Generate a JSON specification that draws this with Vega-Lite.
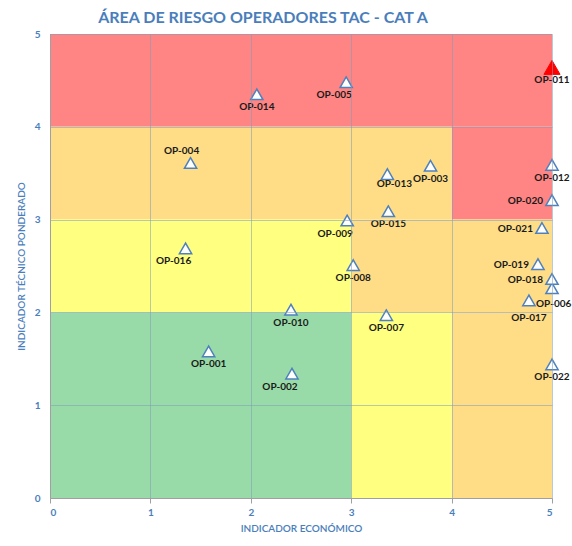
{
  "$schema": "https://vega.github.io/schema/vega-lite/v6.json",
  "autosize": {"type": "none"},
  "width": 502,
  "height": 464,
  "padding": {"left": 50, "top": 34, "right": 20, "bottom": 48},
  "background": "white",
  "title": {
    "text": "ÁREA DE RIESGO OPERADORES TAC - CAT A",
    "font": "Lato",
    "fontSize": 16,
    "fontWeight": "bold",
    "color": "#4A7EBB",
    "anchor": "middle",
    "dx": -38,
    "offset": 3
  },
  "config": {
    "view": {"stroke": null},
    "axis": {
      "labelFont": "Lato",
      "titleFont": "Lato",
      "labelColor": "#4A7EBB",
      "titleColor": "#4A7EBB",
      "labelFontWeight": "bold",
      "titleFontWeight": 600,
      "labelFontSize": 10,
      "titleFontSize": 10,
      "gridColor": "#7F9DB9",
      "gridOpacity": 0.55,
      "domainColor": "#A0A0A0",
      "tickColor": "#A0A0A0"
    }
  },
  "datasets": {
    "zonas": [
      {"zona": "Alto", "x0": 0, "x1": 5, "y0": 4, "y1": 5},
      {"zona": "Alto", "x0": 4, "x1": 5, "y0": 3, "y1": 4},
      {"zona": "Medio alto", "x0": 0, "x1": 4, "y0": 3, "y1": 4},
      {"zona": "Medio alto", "x0": 3, "x1": 5, "y0": 2, "y1": 3},
      {"zona": "Medio alto", "x0": 4, "x1": 5, "y0": 0, "y1": 2},
      {"zona": "Medio", "x0": 0, "x1": 3, "y0": 2, "y1": 3},
      {"zona": "Medio", "x0": 3, "x1": 4, "y0": 0, "y1": 2},
      {"zona": "Bajo", "x0": 0, "x1": 3, "y0": 0, "y1": 2}
    ],
    "operadores": [
      {"op": "OP-001", "eco": 1.58, "tec": 1.58},
      {"op": "OP-002", "eco": 2.41, "tec": 1.34},
      {"op": "OP-003", "eco": 3.79, "tec": 3.58},
      {"op": "OP-004", "eco": 1.40, "tec": 3.61},
      {"op": "OP-005", "eco": 2.95, "tec": 4.48},
      {"op": "OP-006", "eco": 5.0, "tec": 2.26},
      {"op": "OP-007", "eco": 3.35, "tec": 1.97},
      {"op": "OP-008", "eco": 3.02, "tec": 2.51},
      {"op": "OP-009", "eco": 2.96, "tec": 2.99},
      {"op": "OP-010", "eco": 2.40, "tec": 2.03},
      {"op": "OP-011", "eco": 5.0, "tec": 4.64},
      {"op": "OP-012", "eco": 5.0, "tec": 3.59},
      {"op": "OP-013", "eco": 3.36, "tec": 3.49},
      {"op": "OP-014", "eco": 2.06, "tec": 4.35},
      {"op": "OP-015", "eco": 3.37, "tec": 3.09},
      {"op": "OP-016", "eco": 1.35, "tec": 2.69},
      {"op": "OP-017", "eco": 4.77, "tec": 2.13},
      {"op": "OP-018", "eco": 5.0, "tec": 2.36},
      {"op": "OP-019", "eco": 4.86, "tec": 2.52},
      {"op": "OP-020", "eco": 5.0, "tec": 3.21},
      {"op": "OP-021", "eco": 4.90, "tec": 2.91},
      {"op": "OP-022", "eco": 5.0, "tec": 1.44}
    ]
  },
  "layer": [
    {
      "data": {"name": "zonas"},
      "mark": {"type": "rect"},
      "encoding": {
        "x": {"field": "x0", "type": "quantitative", "scale": {"domain": [0, 5], "nice": false}, "axis": {"title": "INDICADOR ECONÓMICO", "values": [0, 1, 2, 3, 4, 5], "format": "d", "tickSize": 5, "labelPadding": 4, "titlePadding": 6, "zindex": 1}},
        "x2": {"field": "x1"},
        "y": {"field": "y0", "type": "quantitative", "scale": {"domain": [0, 5], "nice": false}, "axis": {"title": "INDICADOR TÉCNICO PONDERADO", "values": [0, 1, 2, 3, 4, 5], "format": "d", "ticks": false, "labelPadding": 10, "titlePadding": 8, "zindex": 1}},
        "y2": {"field": "y1"},
        "color": {"field": "zona", "type": "nominal", "legend": null,
          "scale": {"domain": ["Alto", "Medio alto", "Medio", "Bajo"], "range": ["#FF8484", "#FEDD86", "#FFFF80", "#98DBA8"]}}
      }
    },
    {
      "data": {"name": "operadores"},
      "transform": [{"filter": "datum.op !== 'OP-011'"}],
      "mark": {"type": "point", "shape": "triangle-up", "filled": true, "fill": "white", "stroke": "#4F81BD", "strokeWidth": 1.5, "size": 150, "opacity": 1},
      "encoding": {
        "x": {"field": "eco", "type": "quantitative"},
        "y": {"field": "tec", "type": "quantitative"}
      }
    },
    {
      "data": {"name": "operadores"},
      "transform": [{"filter": "datum.op === 'OP-011'"}],
      "mark": {"type": "point", "shape": "triangle-up", "filled": true, "fill": "#FF0000", "stroke": "#FF0000", "strokeWidth": 1, "size": 260, "opacity": 1},
      "encoding": {
        "x": {"field": "eco", "type": "quantitative"},
        "y": {"field": "tec", "type": "quantitative"}
      }
    },
    {
      "data": {"name": "operadores"},
      "transform": [{"filter": {"field": "op", "oneOf": ["OP-001", "OP-003", "OP-007", "OP-008", "OP-010", "OP-011", "OP-012", "OP-014", "OP-015", "OP-022"]}}],
      "mark": {"type": "text", "font": "Lato", "fontSize": 10, "fontWeight": "bold", "color": "#1A1A1A", "dy": 13, "baseline": "middle", "align": "center"},
      "encoding": {
        "x": {"field": "eco", "type": "quantitative"},
        "y": {"field": "tec", "type": "quantitative"},
        "text": {"field": "op"}
      }
    },
    {
      "data": {"name": "operadores"},
      "transform": [{"filter": {"field": "op", "oneOf": ["OP-002", "OP-005", "OP-009", "OP-016"]}}],
      "mark": {"type": "text", "font": "Lato", "fontSize": 10, "fontWeight": "bold", "color": "#1A1A1A", "dy": 13, "dx": -12, "baseline": "middle", "align": "center"},
      "encoding": {
        "x": {"field": "eco", "type": "quantitative"},
        "y": {"field": "tec", "type": "quantitative"},
        "text": {"field": "op"}
      }
    },
    {
      "data": {"name": "operadores"},
      "transform": [{"filter": {"field": "op", "oneOf": ["OP-013"]}}],
      "mark": {"type": "text", "font": "Lato", "fontSize": 10, "fontWeight": "bold", "color": "#1A1A1A", "dy": 10, "dx": 7, "baseline": "middle", "align": "center"},
      "encoding": {
        "x": {"field": "eco", "type": "quantitative"},
        "y": {"field": "tec", "type": "quantitative"},
        "text": {"field": "op"}
      }
    },
    {
      "data": {"name": "operadores"},
      "transform": [{"filter": {"field": "op", "oneOf": ["OP-017"]}}],
      "mark": {"type": "text", "font": "Lato", "fontSize": 10, "fontWeight": "bold", "color": "#1A1A1A", "dy": 18, "baseline": "middle", "align": "center"},
      "encoding": {
        "x": {"field": "eco", "type": "quantitative"},
        "y": {"field": "tec", "type": "quantitative"},
        "text": {"field": "op"}
      }
    },
    {
      "data": {"name": "operadores"},
      "transform": [{"filter": {"field": "op", "oneOf": ["OP-018", "OP-019", "OP-020", "OP-021"]}}],
      "mark": {"type": "text", "font": "Lato", "fontSize": 10, "fontWeight": "bold", "color": "#1A1A1A", "dx": -9, "dy": 1, "baseline": "middle", "align": "right"},
      "encoding": {
        "x": {"field": "eco", "type": "quantitative"},
        "y": {"field": "tec", "type": "quantitative"},
        "text": {"field": "op"}
      }
    },
    {
      "data": {"name": "operadores"},
      "transform": [{"filter": {"field": "op", "oneOf": ["OP-004"]}}],
      "mark": {"type": "text", "font": "Lato", "fontSize": 10, "fontWeight": "bold", "color": "#1A1A1A", "dx": -9, "dy": -12, "baseline": "middle", "align": "center"},
      "encoding": {
        "x": {"field": "eco", "type": "quantitative"},
        "y": {"field": "tec", "type": "quantitative"},
        "text": {"field": "op"}
      }
    },
    {
      "data": {"name": "operadores"},
      "transform": [{"filter": {"field": "op", "oneOf": ["OP-006"]}}],
      "mark": {"type": "text", "font": "Lato", "fontSize": 10, "fontWeight": "bold", "color": "#1A1A1A", "dx": -16, "dy": 16, "baseline": "middle", "align": "left"},
      "encoding": {
        "x": {"field": "eco", "type": "quantitative"},
        "y": {"field": "tec", "type": "quantitative"},
        "text": {"field": "op"}
      }
    }
  ]
}
